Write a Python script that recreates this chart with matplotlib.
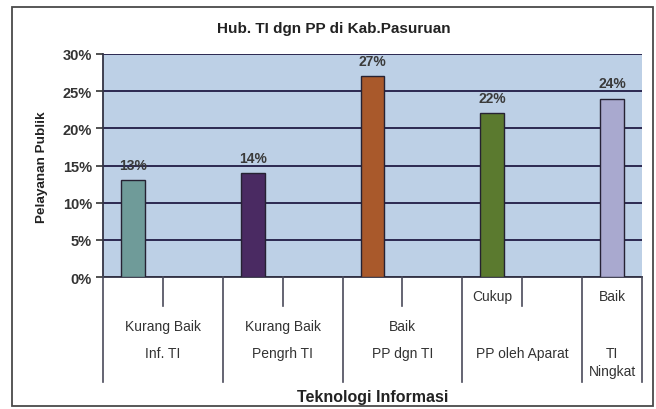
import numpy as np
import matplotlib
matplotlib.use("Agg")
import matplotlib.pyplot as plt
from matplotlib.patches import Rectangle
from matplotlib.lines import Line2D
from matplotlib.transforms import blended_transform_factory

plt.rcParams["font.family"] = ["Liberation Sans", "DejaVu Sans"]

# data: 9 category slots (Excel two-level axis), empty slots have no bar
inner_labels = ["Kurang Baik", "", "Kurang Baik", "", "Baik", "", "Cukup", "", "Baik"]
values = [13, np.nan, 14, np.nan, 27, np.nan, 22, np.nan, 24]
outer_labels = ["Inf. TI", "Pengrh TI", "PP dgn TI", "PP oleh Aparat", "TI\nNingkat"]
group_sizes = [2, 2, 2, 2, 1]
bar_colors = ["#6f9b99", "#4a2a62", "#a9592b", "#5b7a2f", "#a9a9cf"]
yticks = [0, 5, 10, 15, 20, 25, 30]

W, H = 656, 410
fig = plt.figure(figsize=(W / 100, H / 100), dpi=100)
fig.patch.set_facecolor("white")

def fx(px):
    return px / W

def fy(py):
    return 1 - py / H

# outer chart frame
fig.patches.append(Rectangle((fx(12), fy(407)), fx(653) - fx(12), fy(8) - fy(407),
                             transform=fig.transFigure, fill=False,
                             edgecolor="#4a4a4a", lw=1.3))

ax = fig.add_axes([fx(103), fy(278), fx(642) - fx(103), fy(55) - fy(278)])
ax.set_facecolor("#bdd0e6")

x = np.arange(len(values))
cols = []
k = 0
for v in values:
    if np.isnan(v):
        cols.append("none")
    else:
        cols.append(bar_colors[k]); k += 1
ax.bar(x, values, width=0.4, color=cols, edgecolor="#262233", linewidth=1.0, zorder=3)

for xi, v in zip(x, values):
    if not np.isnan(v):
        ax.annotate(f"{v:.0f}%", (xi, v), xytext=(0, 8), textcoords="offset points",
                    ha="center", va="baseline", fontsize=10, fontweight="bold",
                    color="#3a3a3a", zorder=4)

ax.set_xlim(-0.5, len(values) - 0.5)
ax.set_ylim(0, 30)
ax.set_yticks(yticks)
ax.set_yticklabels([f"{t}%" for t in yticks], fontsize=10.5, fontweight="bold", color="#333333")
ax.set_xticks([])
ax.tick_params(axis="y", length=5, width=1.2, color="#333333", pad=3)
ax.yaxis.grid(True, color="#2c2850", lw=1.4)
ax.set_axisbelow(True)
for s in ("top", "right"):
    ax.spines[s].set_visible(False)
for s in ("left", "bottom"):
    ax.spines[s].set_color("#333344")
    ax.spines[s].set_linewidth(1.3)

# two-level category axis drawn below the plot
bt = blended_transform_factory(ax.transData, fig.transFigure)
line_kw = dict(color="#4a4a5a", lw=1.2, transform=bt, clip_on=False)
start = 0
edges = [-0.5]
for gi, (lab, n) in enumerate(zip(outer_labels, group_sizes)):
    left, right = start - 0.5, start + n - 0.5
    edges.append(right)
    gc = (left + right) / 2
    # inner tick between the two slots of a group
    if n > 1:
        for j in range(1, n):
            xt = start + j - 0.5
            fig.add_artist(Line2D([xt, xt], [fy(278), fy(307)], **line_kw))
    # inner label
    il = inner_labels[start]
    if gi < 3:
        fig.text(gc, fy(327), il, transform=bt, ha="center", va="center",
                 fontsize=10, color="#333333")
    else:
        fig.text(start, fy(297), il, transform=bt, ha="center", va="center",
                 fontsize=10, color="#333333")
    # outer label
    fig.text(gc, fy(347), lab, transform=bt, ha="center", va="top",
             fontsize=10, color="#333333", linespacing=1.4)
    start += n

for e in edges:
    fig.add_artist(Line2D([e, e], [fy(278), fy(383)], **line_kw))

fig.text(fx(334), fy(29), "Hub. TI dgn PP di Kab.Pasuruan", ha="center", va="center",
         fontsize=11, fontweight="bold", color="#222222")
fig.text(fx(42), fy(167), "Pelayanan Publik", rotation=90, ha="center", va="center",
         fontsize=9.7, fontweight="bold", color="#222222")
fig.text(fx(373), fy(398), "Teknologi Informasi", ha="center", va="center",
         fontsize=11.5, fontweight="bold", color="#222222")

fig.savefig("out.png", dpi=100)
